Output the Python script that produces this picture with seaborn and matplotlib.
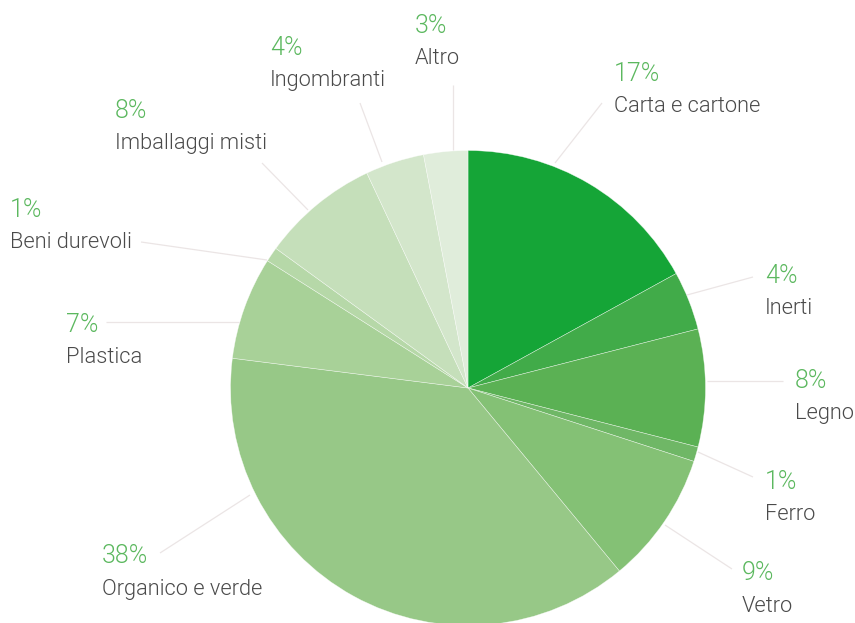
import matplotlib
matplotlib.use("Agg")
import matplotlib.pyplot as plt
import seaborn as sns

# Waste composition (percent of total), clockwise from 12 o'clock
categories = ["Carta e cartone", "Inerti", "Legno", "Ferro", "Vetro",
              "Organico e verde", "Plastica", "Beni durevoli",
              "Imballaggi misti", "Ingombranti", "Altro"]
shares = [17, 4, 8, 1, 9, 38, 7, 1, 8, 4, 3]
slice_colors = ["#15a537", "#41ab49", "#5bb154", "#6fb766", "#84c175",
                "#97c887", "#a8d198", "#b6d8a8", "#c5dfba", "#d3e6cb",
                "#e0eddb"]

# Label layout in pixels: (text left, percent baseline) and connector ends
label_pos = [(614, 81), (765, 283), (795, 388), (765, 489), (742, 580),
             (102, 563), (66, 332), (10, 217), (115, 118), (270, 55),
             (415, 33)]
connectors = [((602, 103), (555, 163)), ((753, 277), (687, 295)),
              ((783, 381), (707, 381)), ((753, 477), (698, 452)),
              ((732, 569), (665, 525)), ((160, 553), (250, 495)),
              ((106, 322), (239, 322)), ((141, 242), (267, 260)),
              ((262, 163), (308, 210)), ((360, 103), (382, 162)),
              ((453, 85), (453, 150))]

sns.set_theme(style="white")
plt.rcParams["font.family"] = ["Roboto", "DejaVu Sans"]

W, H, DPI = 855, 623, 100
CX, CY, R = 468, 388, 237.5

fig = plt.figure(figsize=(W / DPI, H / DPI), dpi=DPI)
ax = fig.add_axes([0, 0, 1, 1])


def to_data(p):
    return ((p[0] - CX) / R, (CY - p[1]) / R)


ax.pie(shares, colors=sns.color_palette(slice_colors), startangle=90,
       counterclock=False, radius=1.0, center=(0, 0),
       wedgeprops=dict(edgecolor=(1, 1, 1, 0.6), linewidth=0.4))

for (a, b) in connectors:
    pa, pb = to_data(a), to_data(b)
    ax.plot([pa[0], pb[0]], [pa[1], pb[1]], color="#ebe5e5", lw=0.9,
            solid_capstyle="butt", zorder=1)

for name, val, (lx, by) in zip(categories, shares, label_pos):
    x, y = to_data((lx, by))
    ax.text(x, y, f"{val}%", color="#5cb85f", fontsize=18, fontweight=300,
            ha="left", va="baseline")
    x2, y2 = to_data((lx, by + 31.5))
    ax.text(x2, y2, name, color="#4a4a4a", fontsize=15.7, fontweight=300,
            ha="left", va="baseline")

# pixel-aligned data window (pie sets its own limits, so apply afterwards)
ax.set_aspect("equal", adjustable="datalim")
ax.set_xlim((0 - CX) / R, (W - CX) / R)
ax.set_ylim((CY - H) / R, (CY - 0) / R)
ax.axis("off")

fig.savefig("out.png", dpi=DPI)
